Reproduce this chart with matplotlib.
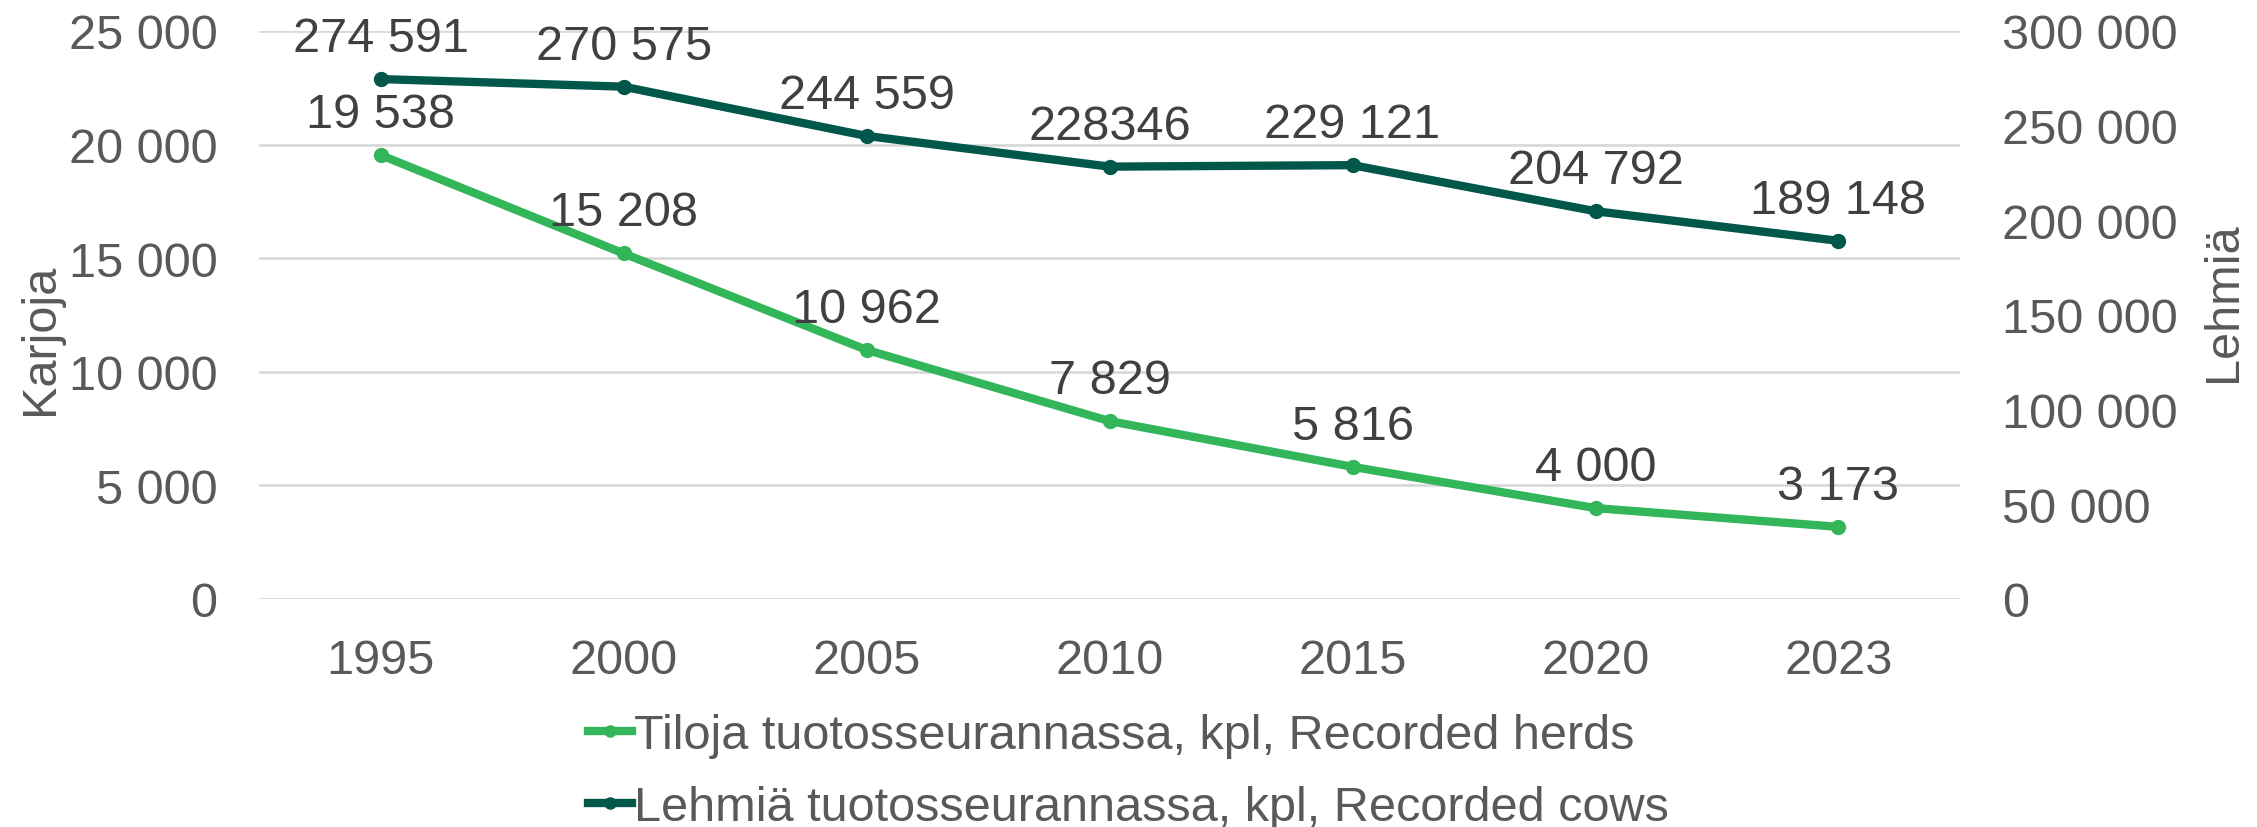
import matplotlib.pyplot as plt
from matplotlib.ticker import FuncFormatter

plt.rcParams['font.family'] = ['Liberation Sans', 'DejaVu Sans']

years = ['1995', '2000', '2005', '2010', '2015', '2020', '2023']
herds = [19538, 15208, 10962, 7829, 5816, 4000, 3173]
cows = [274591, 270575, 244559, 228346, 229121, 204792, 189148]
herd_labels = ['19 538', '15 208', '10 962', '7 829', '5 816', '4 000', '3 173']
cow_labels = ['274 591', '270 575', '244 559', '228346', '229 121', '204 792', '189 148']

light = '#33B55A'
dark = '#00574A'
tick_col = '#595959'
lab_col = '#404040'
fs = 35

def spaced(v, pos):
    return f'{int(v):,}'.replace(',', ' ')

fig = plt.figure(figsize=(22.57, 8.28), dpi=100)
ax = fig.add_axes([0.1148, 0.2754, 0.7536, 0.686])
ax2 = ax.twinx()

x = list(range(len(years)))
l1, = ax.plot(x, herds, color=light, lw=6, marker='o', ms=10,
              label='Tiloja tuotosseurannassa, kpl, Recorded herds')
l2, = ax2.plot(x, cows, color=dark, lw=6, marker='o', ms=10,
               label='Lehmiä tuotosseurannassa, kpl, Recorded cows')

for xi, v, t in zip(x, herds, herd_labels):
    ax.annotate(t, (xi, v), xytext=(0, 13), textcoords='offset points',
                ha='center', va='bottom', fontsize=fs, color=lab_col)
for xi, v, t in zip(x, cows, cow_labels):
    ax2.annotate(t, (xi, v), xytext=(0, 13), textcoords='offset points',
                 ha='center', va='bottom', fontsize=fs, color=lab_col,
                 annotation_clip=False)

ax.set_xlim(-0.5, 6.5)
ax.set_ylim(0, 25000)
ax2.set_ylim(0, 300000)
ax.set_yticks(range(0, 25001, 5000))
ax2.set_yticks(range(0, 300001, 50000))
ax.yaxis.set_major_formatter(FuncFormatter(spaced))
ax2.yaxis.set_major_formatter(FuncFormatter(spaced))
ax.set_xticks(x)
ax.set_xticklabels(years)

ax.grid(axis='y', color='#D9D9D9', lw=2)
ax.set_axisbelow(True)
for a in (ax, ax2):
    for s in a.spines.values():
        s.set_visible(False)
    a.tick_params(length=0, labelsize=fs, labelcolor=tick_col)
ax.tick_params(axis='y', pad=30)
ax2.tick_params(axis='y', pad=30)
ax.tick_params(axis='x', pad=28)

fig.text(0.018, 0.59, 'Karjoja', rotation=90, ha='center', va='center',
         fontsize=fs, color=tick_col)
fig.text(0.985, 0.635, 'Lehmiä', rotation=90, ha='center', va='center',
         fontsize=fs, color=tick_col)

fig.legend(handles=[l1, l2], loc='center', bbox_to_anchor=(0.5, 0.067),
           ncol=1, frameon=False, fontsize=fs, labelcolor=tick_col,
           handlelength=0.9, handletextpad=0.05, labelspacing=0.56,
           borderpad=0, markerscale=0.8)

fig.savefig('out.png', dpi=100)
